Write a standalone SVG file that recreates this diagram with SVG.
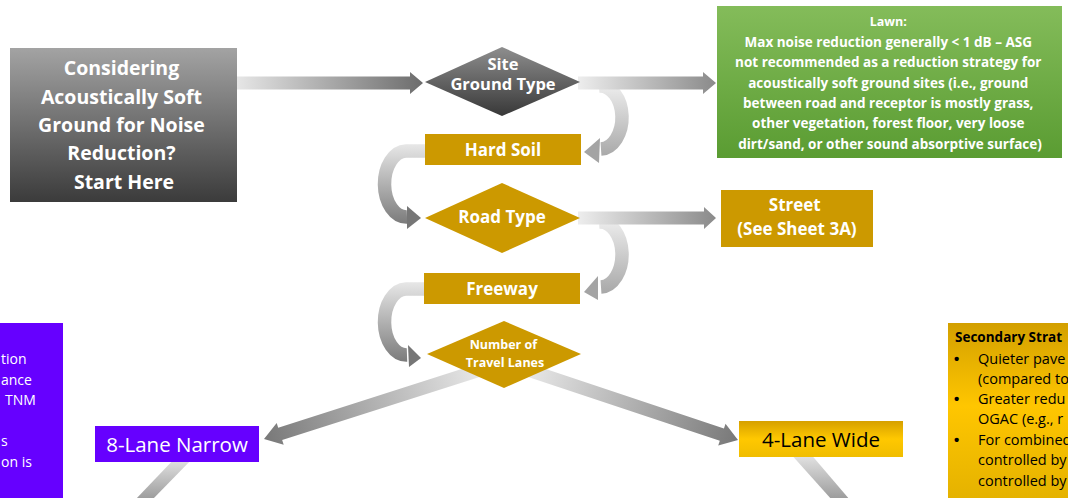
<svg xmlns="http://www.w3.org/2000/svg" width="1068" height="498" viewBox="0 0 1068 498">
  <defs>
    <style>
      .t { font-family: "Open Sans", "Noto Sans", "Liberation Sans", sans-serif; text-anchor: middle; }
      .wb { fill: #ffffff; font-weight: 700; }
      .wr { fill: #ffffff; font-weight: 400; }
      .kb { fill: #000000; font-weight: 700; }
      .kr { fill: #000000; font-weight: 400; }
      .gold { fill: #cc9900; }
      .curve { fill: none; stroke-width: 13.5; }
      .bul { font-family: "Liberation Sans", Arial, sans-serif; font-weight: 700; font-size: 15px; }
    </style>
    <linearGradient id="gStart" x1="0" y1="0" x2="0" y2="1">
      <stop offset="0" stop-color="#a3a3a3"/>
      <stop offset="1" stop-color="#3b3b3b"/>
    </linearGradient>
    <linearGradient id="gSite" x1="0" y1="0" x2="0" y2="1">
      <stop offset="0" stop-color="#8e8e8e"/>
      <stop offset="1" stop-color="#383838"/>
    </linearGradient>
    <linearGradient id="gLawn" x1="0" y1="0" x2="0" y2="1">
      <stop offset="0" stop-color="#84bc5a"/>
      <stop offset="1" stop-color="#5a9c32"/>
    </linearGradient>
    <linearGradient id="gAmber" x1="0" y1="0" x2="0" y2="1">
      <stop offset="0" stop-color="#d6a000"/>
      <stop offset="0.5" stop-color="#ffc800"/>
      <stop offset="1" stop-color="#f0bd00"/>
    </linearGradient>
    <linearGradient id="gNote" x1="0" y1="0" x2="0" y2="1">
      <stop offset="0" stop-color="#d3a000"/>
      <stop offset="0.45" stop-color="#ffc600"/>
      <stop offset="1" stop-color="#e2b000"/>
    </linearGradient>
    <!-- arrow shading, light at the tail and darker toward the head -->
    <linearGradient id="aMain" gradientUnits="userSpaceOnUse" x1="237" y1="0" x2="423" y2="0">
      <stop offset="0" stop-color="#e6e6e6"/>
      <stop offset="1" stop-color="#6c6c6c"/>
    </linearGradient>
    <linearGradient id="aLawn" gradientUnits="userSpaceOnUse" x1="580" y1="0" x2="716" y2="0">
      <stop offset="0" stop-color="#ececec"/>
      <stop offset="1" stop-color="#8a8a8a"/>
    </linearGradient>
    <linearGradient id="aStreet" gradientUnits="userSpaceOnUse" x1="580" y1="0" x2="716" y2="0">
      <stop offset="0" stop-color="#ececec"/>
      <stop offset="1" stop-color="#8a8a8a"/>
    </linearGradient>
    <linearGradient id="cR1" gradientUnits="userSpaceOnUse" x1="0" y1="86" x2="0" y2="163">
      <stop offset="0" stop-color="#ececec"/>
      <stop offset="1" stop-color="#a2a2a2"/>
    </linearGradient>
    <linearGradient id="cR2" gradientUnits="userSpaceOnUse" x1="0" y1="221" x2="0" y2="300">
      <stop offset="0" stop-color="#ececec"/>
      <stop offset="1" stop-color="#a2a2a2"/>
    </linearGradient>
    <linearGradient id="cL1" gradientUnits="userSpaceOnUse" x1="0" y1="145" x2="0" y2="229">
      <stop offset="0" stop-color="#e6e6e6"/>
      <stop offset="1" stop-color="#747474"/>
    </linearGradient>
    <linearGradient id="cL2" gradientUnits="userSpaceOnUse" x1="0" y1="283" x2="0" y2="367">
      <stop offset="0" stop-color="#e6e6e6"/>
      <stop offset="1" stop-color="#747474"/>
    </linearGradient>
    <linearGradient id="aNarrow" gradientUnits="userSpaceOnUse" x1="480" y1="370" x2="264" y2="439">
      <stop offset="0" stop-color="#e8e8e8"/>
      <stop offset="1" stop-color="#787878"/>
    </linearGradient>
    <linearGradient id="aWide" gradientUnits="userSpaceOnUse" x1="528" y1="370" x2="738" y2="440">
      <stop offset="0" stop-color="#e8e8e8"/>
      <stop offset="1" stop-color="#787878"/>
    </linearGradient>
    <linearGradient id="aDown" x1="0" y1="0" x2="0" y2="1">
      <stop offset="0" stop-color="#e8e8e8"/>
      <stop offset="1" stop-color="#9a9a9a"/>
    </linearGradient>
  </defs>

  <rect width="1068" height="498" fill="#ffffff"/>

  <!-- connectors -->
  <g id="connectors">
    <!-- Site Ground Type -> Hard Soil (curls round the right side) -->
    <path class="curve" stroke="url(#cR1)" d="M 599 86 A 22 31.5 0 0 1 601 149"/>
    <polygon fill="#a4a4a4" points="600,138 584,152 599,163"/>
    <!-- Hard Soil -> Road Type (curls round the left side) -->
    <path class="curve" stroke="url(#cL1)" d="M 427 151 L 406 151 A 22 33 0 0 0 407 217"/>
    <polygon fill="#767676" points="407,206 421,218 407,229"/>
    <!-- Road Type -> Freeway -->
    <path class="curve" stroke="url(#cR2)" d="M 599 222 A 22 32.5 0 0 1 601 287"/>
    <polygon fill="#a4a4a4" points="598,276 584,292 598,300"/>
    <!-- Freeway -> Number of Travel Lanes -->
    <path class="curve" stroke="url(#cL2)" d="M 426 289 L 406 289 A 22 33 0 0 0 407 355"/>
    <polygon fill="#767676" points="408,345 421,358 409,367"/>

    <!-- Start -> Site Ground Type -->
    <polygon fill="url(#aMain)" points="237,76.5 410,76.5 410,72 423,83 410,94 410,89.5 237,89.5"/>
    <!-- Site Ground Type -> Lawn -->
    <polygon fill="url(#aLawn)" points="578,76.5 703,76.5 703,72 716,83 703,94 703,89.5 578,89.5"/>
    <!-- Road Type -> Street -->
    <polygon fill="url(#aStreet)" points="578,211.5 704,211.5 704,207 716,218 704,229 704,224.5 578,224.5"/>
    <!-- Number of Travel Lanes -> 8-Lane Narrow -->
    <polygon fill="url(#aNarrow)" points="478.02,363.81 278.21,427.64 276.69,422.88 264,439 283.69,444.78 282.17,440.02 481.98,376.19"/>
    <!-- Number of Travel Lanes -> 4-Lane Wide -->
    <polygon fill="url(#aWide)" points="530.06,363.83 723.93,428.45 725.51,423.71 738,440 718.23,445.53 719.81,440.79 525.94,376.17"/>
    <!-- continuing downward from the lane boxes -->
    <polygon fill="url(#aDown)" points="177,456 195,456 152,500 135,500"/>
    <polygon fill="url(#aDown)" points="789,452 809,452 850,500 832,500"/>
  </g>

  <!-- start box -->
  <g id="start">
    <rect x="10" y="48" width="227" height="154" fill="url(#gStart)"/>
    <text class="t wb" font-size="19.5">
      <tspan x="124" y="75">Considering</tspan>
      <tspan x="124" y="104">Acoustically Soft</tspan>
      <tspan x="124" y="132">Ground for Noise</tspan>
      <tspan x="124" y="160">Reduction?</tspan>
      <tspan x="124" y="189">Start Here</tspan>
    </text>
  </g>

  <!-- decision: site ground type -->
  <g id="site-ground-type">
    <polygon points="502,47 580,82 502,116 425,82" fill="url(#gSite)"/>
    <text class="t wb" font-size="16.5" x="503" y="70">Site</text>
    <text class="t wb" font-size="16.5" x="503" y="89.5">Ground Type</text>
  </g>

  <!-- lawn outcome -->
  <g id="lawn">
    <rect x="717" y="6" width="345" height="152" fill="url(#gLawn)"/>
    <text class="t wb" font-size="13.5">
      <tspan x="890" y="25.5" font-size="12.5">Lawn:</tspan>
      <tspan x="890" y="47">Max noise reduction generally &lt; 1 dB – ASG</tspan>
      <tspan x="890" y="67.3">not recommended as a reduction strategy for</tspan>
      <tspan x="890" y="87.6">acoustically soft ground sites (i.e., ground</tspan>
      <tspan x="890" y="108">between road and receptor is mostly grass,</tspan>
      <tspan x="890" y="128.3">other vegetation, forest floor,  very loose</tspan>
      <tspan x="890" y="148.6">dirt/sand, or other sound absorptive surface)</tspan>
    </text>
  </g>

  <!-- hard soil -->
  <g id="hard-soil">
    <rect class="gold" x="425" y="134" width="156" height="31"/>
    <text class="t wb" font-size="17" x="503" y="156">Hard Soil</text>
  </g>

  <!-- decision: road type -->
  <g id="road-type">
    <polygon class="gold" points="502,183 580,218 502,253 425,218"/>
    <text class="t wb" font-size="17" x="502" y="222.5">Road Type</text>
  </g>

  <!-- street outcome -->
  <g id="street">
    <rect class="gold" x="721" y="190" width="152" height="57"/>
    <text class="t wb" font-size="17">
      <tspan x="797" y="211">Street</tspan>
      <tspan x="797" y="235">(See Sheet 3A)</tspan>
    </text>
  </g>

  <!-- freeway -->
  <g id="freeway">
    <rect class="gold" x="424" y="273" width="156" height="31"/>
    <text class="t wb" font-size="17" x="502" y="295">Freeway</text>
  </g>

  <!-- decision: number of travel lanes -->
  <g id="travel-lanes">
    <polygon class="gold" points="504,321 581,354 504,388 427,354"/>
    <text class="t wb" font-size="12.5">
      <tspan x="505" y="348.5">Number of</tspan>
      <tspan x="505" y="367">Travel Lanes</tspan>
    </text>
  </g>

  <!-- 8-lane narrow -->
  <g id="eight-lane-narrow">
    <rect x="95" y="426" width="164" height="36" fill="#6600ff"/>
    <text class="t wr" font-size="20.5" x="177" y="451.5">8-Lane Narrow</text>
  </g>

  <!-- 4-lane wide -->
  <g id="four-lane-wide">
    <rect x="739" y="421" width="164" height="36" fill="url(#gAmber)"/>
    <text class="t kr" font-size="20.5" x="821" y="446.5">4-Lane Wide</text>
  </g>

  <!-- note panel at the left edge -->
  <g id="left-note">
    <rect x="-10" y="323" width="73" height="185" fill="#6600ff"/>
    <text class="wr" font-family="Open Sans, Noto Sans, sans-serif" font-size="14">
      <tspan x="1" y="364">tion</tspan>
      <tspan x="1" y="384.5">ance</tspan>
      <tspan x="5" y="405">TNM</tspan>
      <tspan x="1" y="446">s</tspan>
      <tspan x="1" y="466.5">on is</tspan>
    </text>
  </g>

  <!-- secondary strategies panel at the right edge -->
  <g id="secondary">
    <rect x="948" y="323" width="130" height="185" fill="url(#gNote)"/>
    <text font-family="Open Sans, Noto Sans, sans-serif" font-size="14.5" fill="#000000">
      <tspan x="955" y="342" font-weight="700" font-size="13.5">Secondary Strat</tspan>
      <tspan class="bul" x="954" y="364">•</tspan>
      <tspan x="978" y="364">Quieter pave</tspan>
      <tspan x="978" y="384">(compared to</tspan>
      <tspan class="bul" x="954" y="404">•</tspan>
      <tspan x="978" y="404">Greater redu</tspan>
      <tspan x="978" y="424">OGAC (e.g., r</tspan>
      <tspan class="bul" x="954" y="445">•</tspan>
      <tspan x="978" y="445">For combined</tspan>
      <tspan x="978" y="465">controlled by</tspan>
      <tspan x="978" y="486">controlled by</tspan>
    </text>
  </g>
</svg>
